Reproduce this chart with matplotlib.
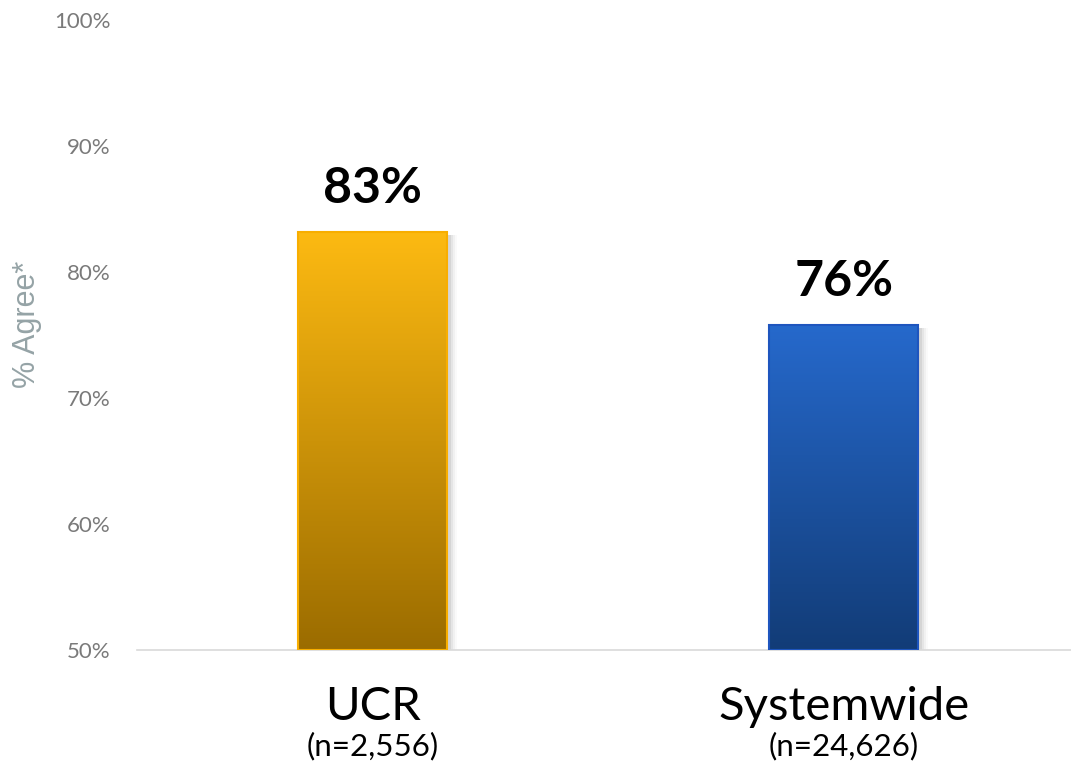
import matplotlib.pyplot as plt
import matplotlib.colors as mcolors
import matplotlib.transforms as mtransforms
from matplotlib.patches import Rectangle
import numpy as np

# data
categories = ['UCR', 'Systemwide']
sample_sizes = ['(n=2,556)', '(n=24,626)']
values = [83.2, 75.8]
value_labels = ['83%', '76%']
yticks = [50, 60, 70, 80, 90, 100]

# top / bottom gradient colours and edge colour for each bar
grad_top = ['#FDBA12', '#2669CC']
grad_bottom = ['#9B6C00', '#123C77']
edge_colors = ['#F8AE00', '#1E55BE']

fig = plt.figure(figsize=(10.71, 7.76), dpi=100)
ax = fig.add_axes([0.128, 0.1624, 0.88, 0.8118])

ymin, ymax = 50, 100
bar_width = 0.316
x = np.arange(len(categories))

for i, (xi, h) in enumerate(zip(x, values)):
    x0, x1 = xi - bar_width / 2, xi + bar_width / 2

    # soft shadow on the right side
    for k, a in enumerate([0.12, 0.08, 0.05, 0.03]):
        off = 0.004 + k * 0.004
        sh = Rectangle((x0 + off + 0.004, ymin), bar_width, h - ymin - 0.25,
                       facecolor='#606060', edgecolor='none', alpha=a, zorder=1)
        ax.add_patch(sh)

    # vertical gradient fill
    cmap = mcolors.LinearSegmentedColormap.from_list('g', [grad_bottom[i], grad_top[i]])
    grad = np.linspace(0, 1, 256).reshape(-1, 1)
    ax.imshow(grad, extent=[x0, x1, ymin, h], origin='lower', aspect='auto',
              cmap=cmap, zorder=2, interpolation='bicubic')
    ax.add_patch(Rectangle((x0, ymin), bar_width, h - ymin, facecolor='none',
                           edgecolor=edge_colors[i], linewidth=1.5, zorder=3))

    ax.text(xi, h + 3.45, value_labels[i], ha='center', va='center',
            fontsize=36, fontweight='bold', family='Lato', color='black')

ax.set_xlim(-0.5, 1.5)
ax.set_ylim(ymin, ymax)

ax.set_yticks(yticks)
ax.set_yticklabels([f'{t}%' for t in yticks], fontsize=16, family='Lato', color='#7A7A7A')
ax.tick_params(axis='y', length=0, pad=19)
ax.set_xticks([])

for s in ['top', 'right', 'left']:
    ax.spines[s].set_visible(False)
ax.spines['bottom'].set_color('#D9D9D9')
ax.spines['bottom'].set_linewidth(1.2)

fig.text(27 / 1071, 1 - 324 / 776, '% Agree*', rotation=90, ha='center', va='center',
         fontsize=22, family='Liberation Sans', color='#95A3A6')

# category labels under the axis
trans = mtransforms.blended_transform_factory(ax.transData, ax.transAxes)
for xi, cat, n in zip(x, categories, sample_sizes):
    ax.text(xi, -0.0905, cat, transform=trans, ha='center', va='center',
            fontsize=34, family='Lato', color='black')
    ax.text(xi, -0.153, n, transform=trans, ha='center', va='center',
            fontsize=22.5, family='Lato', color='black')

fig.savefig('out.png', dpi=100)
